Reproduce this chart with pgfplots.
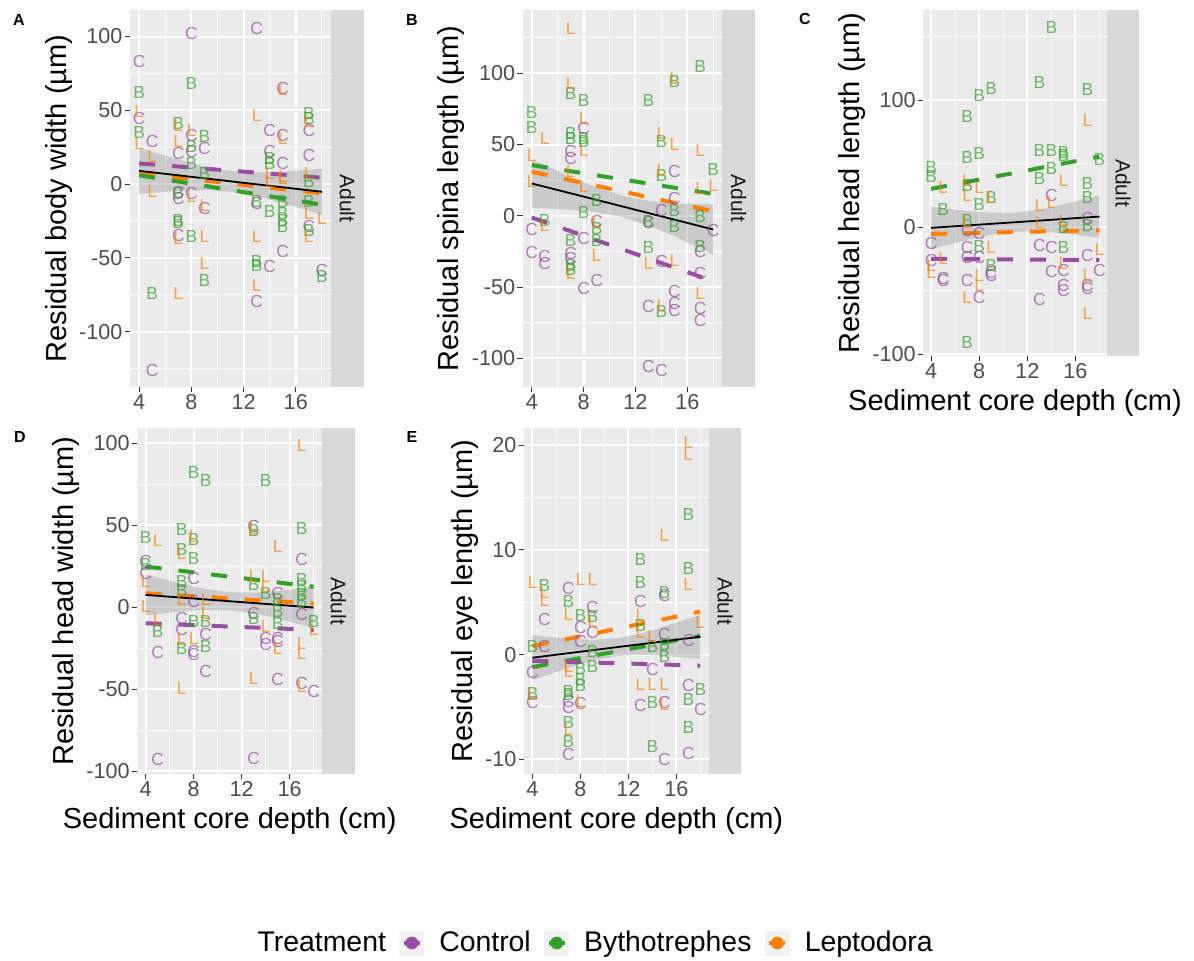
\documentclass[border=0pt]{standalone}
\usepackage{fontspec}
\setmainfont{Liberation Sans}
\usepackage{pgfplots}
\pgfplotsset{compat=1.18}

\definecolor{panelbg}{HTML}{EBEBEB}
\definecolor{stripbg}{HTML}{D9D9D9}
\definecolor{stripfg}{HTML}{1A1A1A}
\definecolor{tickgray}{HTML}{4D4D4D}
\definecolor{tickdark}{HTML}{333333}
\definecolor{keybg}{HTML}{F2F2F2}
\definecolor{cCon}{HTML}{984EA3}
\definecolor{cByt}{HTML}{33A02C}
\definecolor{cLep}{HTML}{FF7F00}

\newcommand{\ticksize}{\fontsize{10.8}{12}\selectfont}
\newcommand{\labsize}{\fontsize{14.5}{16}\selectfont}
\newcommand{\legsize}{\fontsize{14.2}{16}\selectfont}
\newcommand{\marksize}{\fontsize{8.7}{9}\selectfont}
\newcommand{\stripsize}{\fontsize{10.5}{12}\selectfont}

\pgfplotsset{
  panel/.style={
    scale only axis, anchor=north west, clip=false,
    xmin=3.3, xmax=18.7,
    xtick={4,8,12,16}, minor xtick={6,10,14,18},
    grid=both,
    major grid style={draw=white, line width=1pt},
    minor grid style={draw=white, line width=0.5pt},
    axis background/.style={fill=panelbg},
    axis line style={draw=none},
    tick align=outside,
    major tick length=2.7pt, minor tick length=0pt,
    xtick pos=left, ytick pos=left,
    major tick style={draw=tickdark, line width=0.5pt},
    tick label style={font=\ticksize, text=tickgray, inner sep=0.9pt},
    /pgf/number format/assume math mode=true,
    label style={font=\labsize, text=black},
    ylabel shift=-1pt, xlabel shift=1pt,
    extra description/.code={
      \fill[stripbg] (1,0) rectangle ([xshift=16.3pt]1,1);
      \node[rotate=-90, font=\stripsize, text=stripfg] at ([xshift=8.15pt]1,0.5) {Adult};
    },
  },
  ptsC/.style={only marks, mark=text, text mark=C, text mark as node=true,
    text mark style={font=\marksize, text=cCon, text opacity=0.7, inner sep=0pt}},
  ptsB/.style={only marks, mark=text, text mark=B, text mark as node=true,
    text mark style={font=\marksize, text=cByt, text opacity=0.7, inner sep=0pt}},
  ptsL/.style={only marks, mark=text, text mark=L, text mark as node=true,
    text mark style={font=\marksize, text=cLep, text opacity=0.7, inner sep=0pt}},
  fitC/.style={no marks, cCon, line width=2pt, dash pattern=on 8pt off 8.5pt},
  fitB/.style={no marks, cByt, line width=2pt, dash pattern=on 8pt off 8.5pt},
  fitL/.style={no marks, cLep, line width=2pt, dash pattern=on 8pt off 8.5pt},
  fitAll/.style={no marks, black, line width=0.9pt},
  band/.style={no marks, draw=none, fill=black!40, fill opacity=0.4},
  treatkey/.style={legend image code/.code={
    \fill[keybg] (0pt,-6pt) rectangle (12pt,6pt);
    \draw[#1, line width=1.6pt] (2pt,0pt) -- (10pt,0pt);
    \fill[#1] (6pt,0pt) circle (3pt);}},
}

\begin{document}
\begin{tikzpicture}
\useasboundingbox[fill=white] (0pt,0pt) rectangle (597pt,-480.5pt);

% ---------------- A: body width ----------------
\begin{axis}[panel, at={(65pt,-5pt)}, width=100.5pt, height=188.5pt,
  ymin=-137.5, ymax=118,
  ytick={-100,-50,0,50,100}, minor ytick={-125,-75,-25,25,75},
  ylabel={Residual body width (µm)}]
\addplot[ptsC] coordinates {(4,83.4) (4,44.5) (5,28.7) (5,-126.5) (7,21) (7,-6) (7,-9.7) (7,-34.6) (8,102) (8,33.2) (8,21.9) (8,-6.3) (9,24.2) (9,-16.5) (13,105.5) (13,-13.1) (13,-79.8) (14,36.6) (14,22) (14,-56) (15,64.9) (15,33.2) (15,14) (15,-45.9) (17,36.6) (17,19.7) (17,-28.9) (18,-58.3)};
\addplot[ptsB] coordinates {(4,61.9) (4,34.8) (5,-74) (7,41) (7,-6.3) (7,-24.4) (7,-26.2) (8,68) (8,25.3) (8,14) (8,-35.7) (9,32.5) (9,7.2) (9,-65) (13,-12) (13,-52.7) (13,-55) (14,17.4) (14,14) (14,-18.8) (15,-12) (15,-19.9) (15,-24.4) (15,-28.9) (17,48) (17,44.5) (17,1.6) (17,-12) (17,-31.2) (18,-62.8)};
\addplot[ptsL] coordinates {(4,49) (4,27.6) (5,18.5) (5,-5.2) (7,40) (7,28.7) (7,-36.8) (7,-74) (8,36.6) (8,-8.6) (9,-14.2) (9,-35.7) (9,-53.8) (13,46.8) (13,-35.7) (13,-68.5) (14,7.2) (14,1.6) (15,64.2) (15,31) (15,5) (15,3.8) (17,42.3) (17,7.2) (17,-19.9) (17,-35.7) (18,-23.3)};
\addplot[band] coordinates {(4,24.6) (7,16.6) (9,12.0) (11,8.9) (13,7.9) (15,8.5) (18,10.4) (18,-20.8) (15,-12.8) (13,-8.2) (11,-5.1) (9,-4.1) (7,-4.6) (4,-6.6)} -- cycle;
\addplot[fitC] coordinates {(4,14) (18,4.3)};
\addplot[fitL] coordinates {(4,7.2) (18,-6.2)};
\addplot[fitB] coordinates {(4,6) (18,-14)};
\addplot[fitAll] coordinates {(4,9) (18,-5.2)};
\end{axis}

% ---------------- B: spina length ----------------
\begin{axis}[panel, at={(261.35pt,-5pt)}, width=99.8pt, height=188.5pt,
  ymin=-120.1, ymax=144.4,
  ytick={-100,-50,0,50,100}, minor ytick={-75,-25,25,75,125},
  ylabel={Residual spina length (µm)}]
\addplot[ptsC] coordinates {(4,-9.6) (4,-25.7) (5,-28.8) (5,-33.5) (7,44.9) (7,40.2) (7,-26.4) (7,-30) (8,61.3) (8,-15.9) (8,-51) (9,-45.1) (9,-4.2) (13,-4.9) (13,-63.9) (13,-105.5) (14,3.5) (14,-32.3) (14,-108.3) (15,30.9) (15,12.2) (15,-53.3) (15,-61.5) (15,-66.2) (17,-25.3) (17,-40.5) (17,-65) (17,-73.2) (18,-10)};
\addplot[ptsB] coordinates {(4,72.3) (4,61.8) (5,-3) (7,85.8) (7,57.8) (7,54.3) (7,-17) (7,-34.6) (7,-38) (8,81.2) (8,54.3) (8,51.9) (8,2.1) (9,11) (9,-8.9) (9,-17) (13,80.7) (13,-4.2) (13,-22.2) (14,51.9) (14,28.5) (14,-67.4) (15,94) (15,4) (15,-7.7) (17,104.6) (17,-0.7) (17,-21.8) (18,32.5)};
\addplot[ptsL] coordinates {(4,42.6) (4,23.9) (5,54.3) (5,-6.5) (7,131.5) (7,92.9) (7,30.9) (7,-40.5) (8,68.3) (8,46.1) (8,20.4) (9,-27.6) (9,-5) (13,-33.5) (14,57.8) (14,32) (14,-62.7) (15,96.4) (15,50.3) (15,-31.1) (17,46.1) (17,19.2) (17,-54.5) (18,21.5)};
\addplot[band] coordinates {(4,39.7) (7,27.3) (9,19.9) (11,14.05) (13,10.6) (15,8.8) (18,8.0) (18,-27.4) (15,-14.2) (13,-6.8) (11,-0.95) (9,2.5) (7,4.3) (4,5.7)} -- cycle;
\addplot[fitB] coordinates {(4,35.6) (18,15.4)};
\addplot[fitL] coordinates {(4,30.9) (18,3.2)};
\addplot[fitC] coordinates {(4,-1.2) (18,-45.9)};
\addplot[fitAll] coordinates {(4,22.7) (18,-9.6)};
\end{axis}

% ---------------- C: head length ----------------
\begin{axis}[panel, at={(461.65pt,-5pt)}, width=91.7pt, height=173pt,
  xmin=3.35, xmax=18.6,
  ymin=-101.3, ymax=170.9,
  ytick={-100,0,100}, minor ytick={-50,50,150},
  ylabel={Residual head length (µm)},
  xlabel={Sediment core depth (cm)}]
\addplot[ptsC] coordinates {(4,-13.1) (4,-26.2) (5,-42) (5,-40) (7,-2.6) (7,-15.7) (7,-23.6) (7,-42) (8,-4.7) (8,-23.6) (8,-55.1) (9,-38) (9,-36) (13,-14.4) (13,-57.2) (14,24.9) (14,-15.7) (14,-34.6) (15,-34.1) (15,-45.9) (15,-49.9) (17,6.6) (17,-22.3) (17,-45.9) (17,-48.6) (18,-34.1)};
\addplot[ptsB] coordinates {(4,47.2) (4,39.9) (5,13.6) (7,87.1) (7,55.1) (7,32.8) (7,5.2) (7,-90.6) (8,103.7) (8,57.7) (8,17.8) (8,-15.2) (9,108.9) (9,23.6) (9,-30.2) (13,114.2) (13,60.4) (13,38) (14,157.5) (14,60.4) (14,45.9) (15,59) (15,56.4) (15,0) (15,-15.7) (17,108.1) (17,34.6) (17,23.1) (17,1.3) (18,53)};
\addplot[ptsL] coordinates {(4,-30.2) (4,-35.4) (5,31.5) (5,-25) (7,36.7) (7,24.9) (7,3.9) (7,-55.1) (8,31.5) (8,-38) (8,-45.9) (9,23.6) (9,-15.7) (13,17.1) (13,3.9) (14,19.7) (15,36.7) (15,5.2) (15,-28.9) (17,84) (17,-38) (17,-68.2) (18,-17.8)};
\addplot[band] coordinates {(4,16.2) (7,12.8) (9,11.3) (11,11.45) (13,13.85) (15,17.9) (18,25.1) (18,-8.3) (15,-4.9) (13,-3.4) (11,-3.55) (9,-5.95) (7,-9.95) (4,-17.2)} -- cycle;
\addplot[fitB] coordinates {(4,30.2) (18,55.6)};
\addplot[fitL] coordinates {(4,-5.2) (18,-2.4)};
\addplot[fitC] coordinates {(4,-24.9) (18,-25.8)};
\addplot[fitAll] coordinates {(4,-0.5) (18,8.4)};
\end{axis}

% ---------------- D: head width ----------------
\begin{axis}[panel, at={(68.65pt,-214.15pt)}, width=92.35pt, height=172.85pt,
  ymin=-101.8, ymax=109.2,
  ytick={-100,-50,0,50,100}, minor ytick={-75,-25,25,75},
  ylabel={Residual head width (µm)},
  xlabel={Sediment core depth (cm)}]
\addplot[ptsC] coordinates {(4,27.9) (4,20.8) (5,-27.7) (5,-93.2) (7,-6.7) (7,-13.8) (8,17.7) (8,3.5) (8,-27) (8,-29) (9,-16.9) (9,-39.3) (13,49.2) (13,-3.7) (13,-92.2) (14,-18.9) (14,-23) (15,8.5) (15,-18.9) (15,-21) (15,-44.3) (17,28.9) (17,-4.7) (17,-46.4) (18,-51.5)};
\addplot[ptsB] coordinates {(4,42.5) (4,25.8) (5,-14.9) (7,47.2) (7,35) (7,15.7) (7,10.2) (7,-25) (8,82.2) (8,41.1) (8,29.9) (8,-8.7) (9,77.1) (9,-8.7) (9,-24) (13,46.8) (13,13.6) (13,-6.7) (14,77.1) (14,8.5) (15,4.5) (15,-2.6) (15,-9.8) (17,48.2) (17,16.7) (17,12.6) (17,7.5) (17,3.5) (18,-8.7)};
\addplot[ptsL] coordinates {(4,15.7) (4,0.4) (5,40.7) (5,-7.7) (7,33) (7,4.5) (7,-19.5) (7,-49.4) (8,43) (8,-18.9) (9,4.5) (9,-3.7) (13,48.2) (13,18.7) (13,-43.3) (14,18.7) (14,12.6) (14,-11.8) (15,37) (15,-25) (17,98.7) (17,-22) (17,-28.1) (17,-48.4) (18,-13.8)};
\addplot[band] coordinates {(4,20) (7,14.3) (9,11.1) (11,9.15) (13,8.9) (15,9.9) (18,12.3) (18,-12.7) (15,-7.0) (13,-3.8) (11,-1.85) (9,-1.6) (7,-2.6) (4,-5)} -- cycle;
\addplot[fitB] coordinates {(4,24.8) (18,12.5)};
\addplot[fitL] coordinates {(4,8.5) (18,2.2)};
\addplot[fitC] coordinates {(4,-9.8) (18,-13.8)};
\addplot[fitAll] coordinates {(4,7.5) (18,-0.2)};
\end{axis}

% ---------------- E: eye length ----------------
\begin{axis}[panel, at={(262pt,-214.15pt)}, width=92.35pt, height=172.85pt,
  ymin=-11.4, ymax=21.6,
  ytick={-10,0,10,20}, minor ytick={-5,5,15},
  ylabel={Residual eye length (µm)},
  xlabel={Sediment core depth (cm)}]
\addplot[ptsC] coordinates {(5,3.3) (5,0.8) (4,-1.7) (4,-4.6) (7,6.3) (7,-4.5) (7,-5.1) (7,-9.5) (8,2.6) (8,1.2) (8,-4.7) (9,4.5) (9,2.1) (13,5.1) (13,-4.9) (14,-1.4) (15,5.6) (15,1.9) (15,-4.6) (15,-10) (17,1.3) (17,-3) (17,-9.4) (18,-5.2)};
\addplot[ptsB] coordinates {(4,0.8) (4,-3.7) (5,6.6) (7,5.1) (7,-3.5) (7,-3.8) (7,-6.5) (7,-8.3) (8,3.7) (8,-1.3) (8,-2.4) (8,-3) (9,3.6) (9,0.3) (9,-1.1) (13,9.1) (13,6.9) (13,2.8) (14,0.8) (14,-4.6) (14,-8.8) (15,5.9) (15,1) (15,-0.2) (17,13.4) (17,8.2) (17,-4.3) (17,-7) (18,-3.3)};
\addplot[ptsL] coordinates {(4,6.9) (4,-3.8) (5,5.9) (5,5.2) (7,3.8) (7,-1.1) (7,-1.6) (7,-7.2) (8,7.2) (8,-4.5) (9,7.2) (9,3.2) (13,3.7) (13,2.1) (13,-2.9) (14,1.7) (14,-2.9) (15,11.4) (15,-2.9) (15,-4.8) (17,20.2) (17,19.1) (17,6.7) (18,3.1)};
\addplot[band] coordinates {(4,1.85) (7,1.53) (9,1.42) (11,1.55) (13,2.0) (15,2.67) (18,3.8) (18,-0.4) (15,-0.13) (13,-0.02) (11,-0.15) (9,-0.6) (7,-1.27) (4,-2.45)} -- cycle;
\addplot[fitL] coordinates {(4,0.8) (18,4.1)};
\addplot[fitB] coordinates {(4,-1.2) (18,1.8)};
\addplot[fitC] coordinates {(4,-0.6) (18,-1.05)};
\addplot[fitAll] coordinates {(4,-0.3) (18,1.7)};
\end{axis}

% ---------------- panel tags ----------------
\node[font=\bfseries\fontsize{8}{9}\selectfont] at (9.5pt,-10pt) {A};
\node[font=\bfseries\fontsize{8}{9}\selectfont] at (206pt,-10pt) {B};
\node[font=\bfseries\fontsize{8}{9}\selectfont] at (402.5pt,-9.5pt) {C};
\node[font=\bfseries\fontsize{8}{9}\selectfont] at (10pt,-218.5pt) {D};
\node[font=\bfseries\fontsize{8}{9}\selectfont] at (206pt,-218.5pt) {E};

% ---------------- shared legend ----------------
\begin{axis}[hide axis, scale only axis, width=1pt, height=1pt,
  xmin=0, xmax=1, ymin=0, ymax=1,
  at={(121.6pt,-471.5pt)}, anchor=center,
  legend columns=-1,
  legend style={at={(0,0.5)}, anchor=west, draw=none, fill=none,
    inner sep=0pt, font=\legsize, nodes={inner sep=0pt},
    /tikz/every odd column/.append style={column sep=7.5pt},
    /tikz/every even column/.append style={column sep=6.75pt}}]
\addlegendimage{empty legend}
\addlegendentry{Treatment}
\addlegendimage{treatkey=cCon}
\addlegendentry{Control}
\addlegendimage{treatkey=cByt}
\addlegendentry{Bythotrephes}
\addlegendimage{treatkey=cLep}
\addlegendentry{Leptodora}
\end{axis}
\end{tikzpicture}
\end{document}
